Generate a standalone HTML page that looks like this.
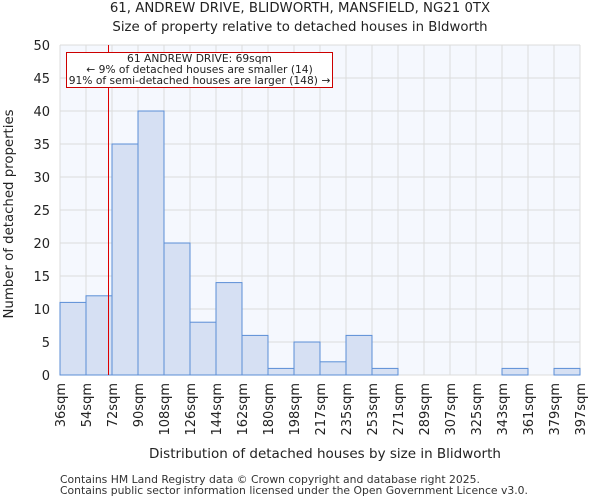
<!DOCTYPE html>
<html><head><meta charset="utf-8"><style>
body{margin:0;background:#fff;font-family:"DejaVu Sans","Liberation Sans",sans-serif;}
svg text{font-family:"DejaVu Sans","Liberation Sans",sans-serif;}
</style></head><body>
<svg id="chart" width="600" height="500" xmlns="http://www.w3.org/2000/svg">
<text x="300" y="12" text-anchor="middle" font-size="13.3" fill="#222">61, ANDREW DRIVE, BLIDWORTH, MANSFIELD, NG21 0TX</text>
<text x="300" y="31" text-anchor="middle" font-size="13.3" fill="#222">Size of property relative to detached houses in Bldworth</text>
<rect x="60" y="45" width="520" height="330" fill="#f5f8fe"/>
<g id="grid"></g><g id="bars"></g><g id="axes"></g>
<text x="325" y="458" text-anchor="middle" font-size="13.5" fill="#222">Distribution of detached houses by size in Blidworth</text>
<text transform="translate(13,214) rotate(-90)" text-anchor="middle" font-size="13.3" fill="#222">Number of detached properties</text>
<text x="60" y="483" font-size="10.8" fill="#333">Contains HM Land Registry data © Crown copyright and database right 2025.</text>
<text x="60" y="494" font-size="10.8" fill="#333">Contains public sector information licensed under the Open Government Licence v3.0.</text>
</svg>
<script>
const binLabels=["36sqm","54sqm","72sqm","90sqm","108sqm","126sqm","144sqm","162sqm","180sqm","198sqm","217sqm","235sqm","253sqm","271sqm","289sqm","307sqm","325sqm","343sqm","361sqm","379sqm","397sqm"];
const binEdges=[36,54,72,90,108,126,144,162,180,198,216,234,252,270,288,306,324,342,360,378,396];
const counts=[11,12,35,40,20,8,14,6,1,5,2,6,1,0,0,0,0,1,0,1];
const yTicks=[0,5,10,15,20,25,30,35,40,45,50];
const propertySize=69;
const NS="http://www.w3.org/2000/svg";
const X0=60,X1=580,Y0=375,Y1=45;
const xs=v=>X0+(v-binEdges[0])/(binEdges[binEdges.length-1]-binEdges[0])*(X1-X0);
const ys=v=>Y0-v/50*(Y0-Y1);
function mk(t,a,p){const e=document.createElementNS(NS,t);for(const k in a)e.setAttribute(k,a[k]);p.appendChild(e);return e;}
const grid=document.getElementById('grid'),bars=document.getElementById('bars'),axes=document.getElementById('axes');
yTicks.forEach(t=>{
 const l=mk('line',{x1:X0,x2:X1,y1:ys(t),y2:ys(t),stroke:'#dcdcdc','stroke-width':1},grid);
 
 
 const tx=mk('text',{x:50,y:ys(t)+5,'text-anchor':'end','font-size':13,fill:'#222'},axes);
 tx.textContent=t;
 
 
});
binEdges.forEach((e,i)=>{
 const l=mk('line',{x1:xs(e),x2:xs(e),y1:Y1,y2:Y0,stroke:'#dcdcdc','stroke-width':1},grid);
 
 
 const x=xs(e);
 const tx=mk('text',{transform:`translate(${x+5},${Y0+8}) rotate(-90)`,'text-anchor':'end','font-size':13,fill:'#222'},axes);
 tx.textContent=binLabels[i];
 
 
});
counts.forEach((c,i)=>{
 const x=xs(binEdges[i]),w=xs(binEdges[i+1])-x;
 const r=mk('rect',{x:x,y:ys(c),width:w,height:Y0-ys(c),fill:'#d6e0f3',stroke:'#5b8ed6','stroke-width':1},bars);
 
 
});
const mx=Math.round(xs(propertySize))+0.5;
const ml=mk('line',{x1:mx,x2:mx,y1:Y1,y2:Y0,stroke:'#dd0000','stroke-width':1},axes);


const box=mk('rect',{x:66.5,y:52.5,width:266,height:35,fill:'#fff',stroke:'#cc0000','stroke-width':1},axes);


["61 ANDREW DRIVE: 69sqm","← 9% of detached houses are smaller (14)","91% of semi-detached houses are larger (148) →"].forEach((s,i)=>{
 const t=mk('text',{x:199.5,y:62+i*11,'text-anchor':'middle','font-size':10.7,fill:'#222'},axes);
 t.textContent=s;
 
 
});
</script>
</body></html>
